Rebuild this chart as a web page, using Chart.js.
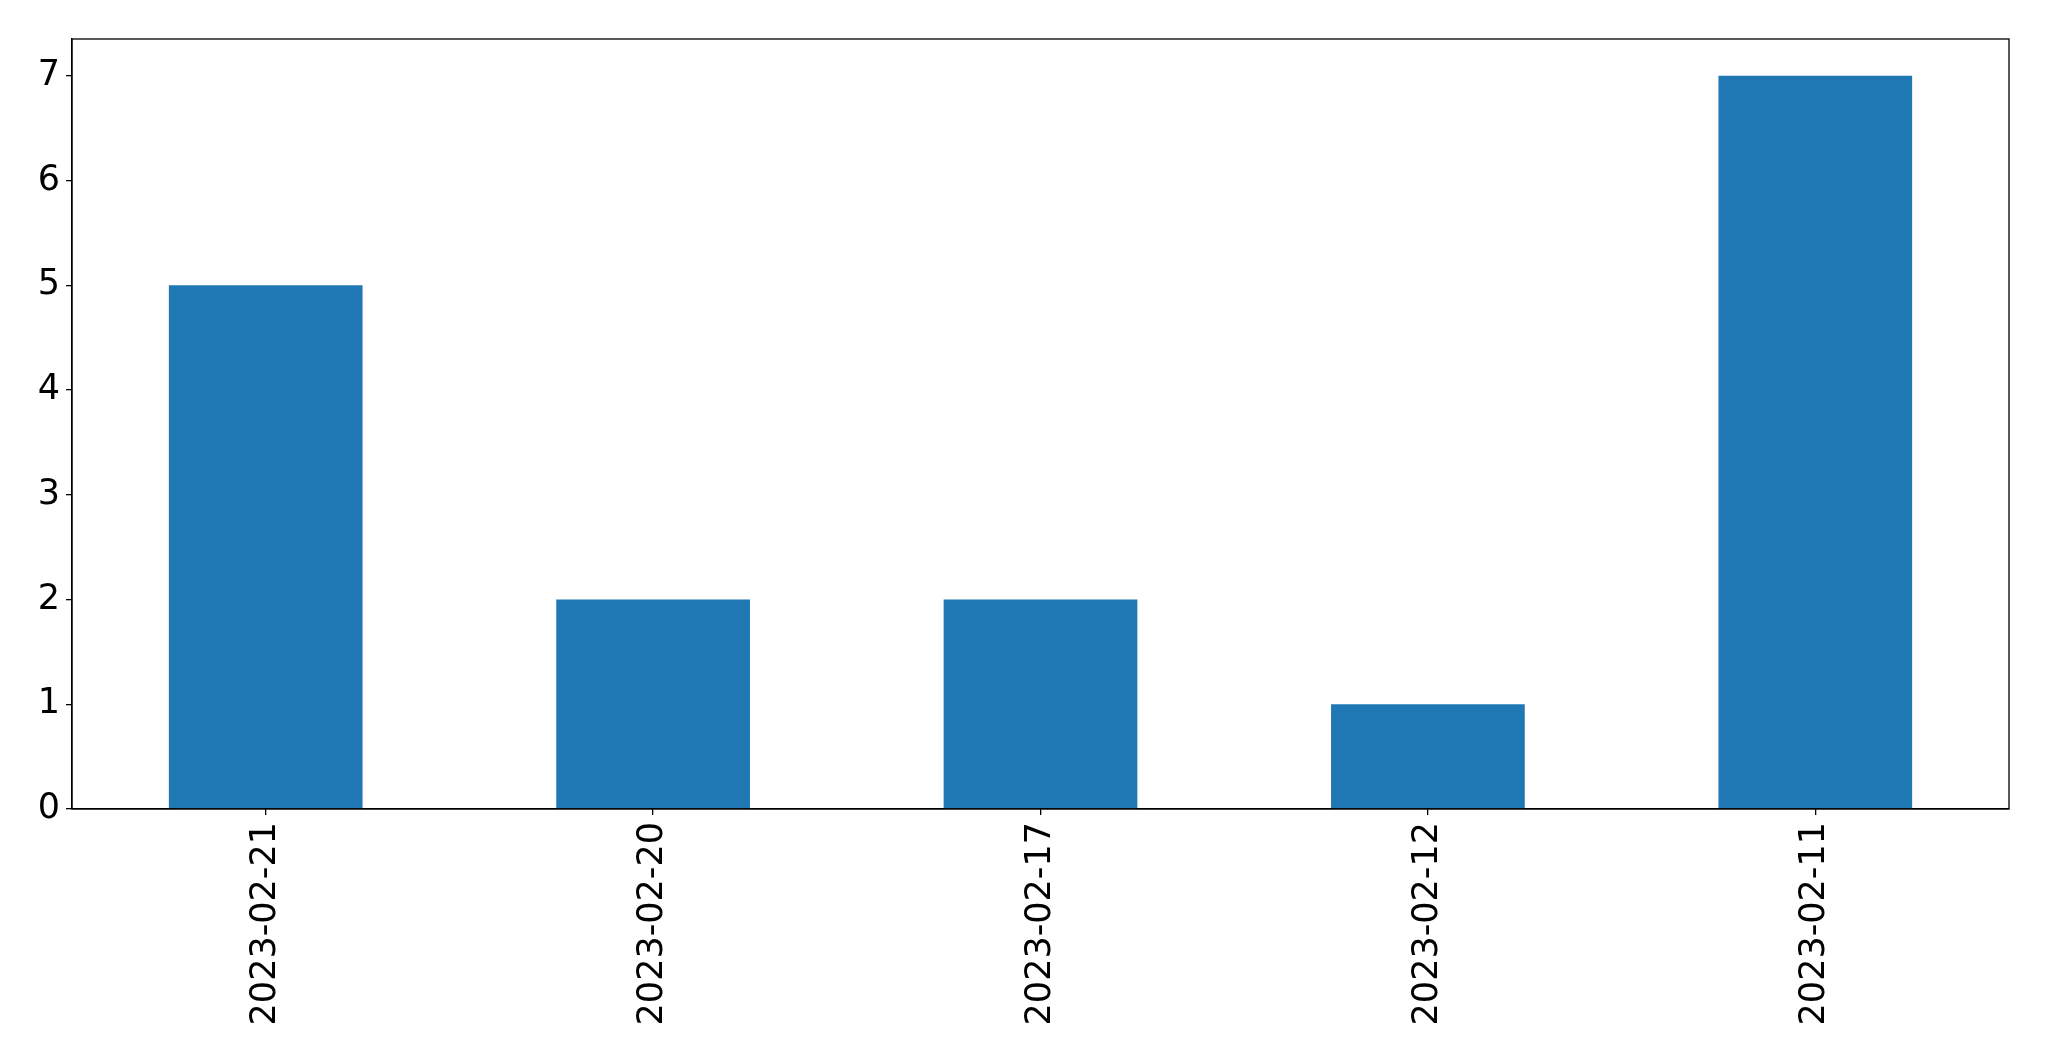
<!DOCTYPE html>
<html>
<head>
<meta charset="utf-8">
<script src="https://cdn.jsdelivr.net/npm/chart.js@4.4.0/dist/chart.umd.min.js"></script>
<style>
html,body{margin:0;padding:0;background:#fff;}
#wrap{width:2049px;height:1061px;position:relative;}
</style>
</head>
<body>
<div id="wrap"><canvas id="c" width="2049" height="1061"></canvas></div>
<script>
const categories = ["2023-02-21", "2023-02-20", "2023-02-17", "2023-02-12", "2023-02-11"];
const counts = [5, 2, 2, 1, 7];
const yTicks = [0, 1, 2, 3, 4, 5, 6, 7];

const frame = {
  id: 'frame',
  afterDraw(chart) {
    const a = chart.chartArea, ctx = chart.ctx;
    ctx.save();
    ctx.strokeStyle = '#000';
    ctx.lineWidth = 1.3;
    ctx.strokeRect(a.left, a.top, a.right - a.left, a.bottom - a.top);
    ctx.restore();
  }
};

new Chart(document.getElementById('c'), {
  type: 'bar',
  data: {
    labels: categories,
    datasets: [{
      data: counts,
      backgroundColor: '#1f77b4',
      borderWidth: 0,
      barPercentage: 0.5,
      categoryPercentage: 1.0
    }]
  },
  options: {
    responsive: false,
    animation: false,
    layout: { padding: { top: 39, right: 40, left: 0, bottom: 0 } },
    plugins: { legend: { display: false }, tooltip: { enabled: false } },
    scales: {
      x: {
        grid: { display: true, offset: false, drawOnChartArea: false, tickLength: 6, tickColor: '#000', lineWidth: 1.3 },
        border: { display: true, color: '#000', width: 1.3 },
        ticks: {
          color: '#000', font: { family: 'DejaVu Sans', size: 35 },
          maxRotation: 90, minRotation: 90, padding: 7, autoSkip: false
        },
        afterFit(s) { s.height = 252; }
      },
      y: {
        min: 0, max: 7.35,
        grid: { display: true, drawOnChartArea: false, tickLength: 6, tickColor: '#000', lineWidth: 1.3 },
        border: { display: true, color: '#000', width: 1.3 },
        afterBuildTicks(s) { s.ticks = yTicks.map(v => ({ value: v })); },
        ticks: {
          color: '#000', font: { family: 'DejaVu Sans', size: 35 },
          padding: 6
        },
        afterFit(s) { s.width = 72; }
      }
    }
  },
  plugins: [frame]
});
</script>
</body>
</html>
